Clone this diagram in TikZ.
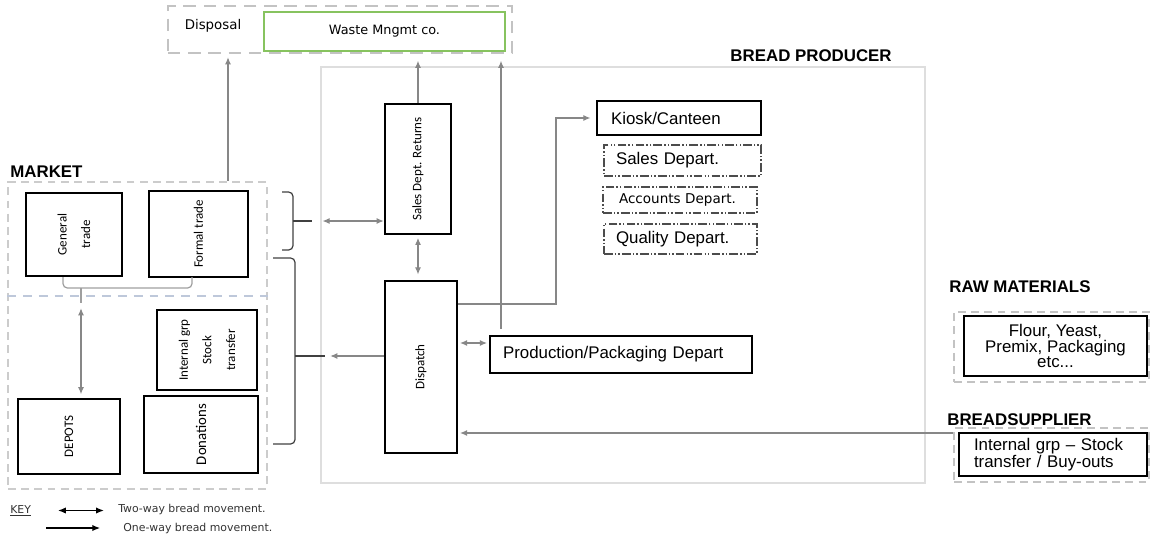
\documentclass[tikz,border=0pt]{standalone}
\usepackage{fontspec}
\setmainfont{Liberation Sans}
\newfontfamily\condfont{Carlito}
\newfontfamily\verdfont{DejaVu Sans}
\usepackage{xcolor}
\usetikzlibrary{arrows.meta,positioning,calc}
\definecolor{linegray}{RGB}{135,135,135}
\definecolor{framegray}{RGB}{222,222,222}
\definecolor{dashgray}{RGB}{195,195,195}
\definecolor{wastegreen}{RGB}{135,195,95}
\definecolor{divblue}{RGB}{190,200,218}

\begin{document}
\begin{tikzpicture}[x=0.02cm,y=-0.02cm,
  font=\fontsize{9.6}{11}\selectfont,
  box/.style={draw,line width=1.5pt,inner sep=0pt},
  vtext/.style={rotate=90,align=center,font=\condfont\fontsize{7.4}{13.4}\selectfont},
  dept/.style={draw=black!70,line width=0.9pt,inner ysep=0pt,align=left,
    dash pattern=on 5pt off 1.2pt on 0.8pt off 1.2pt on 0.8pt off 1.2pt},
  grp/.style={draw=dashgray,line width=0.9pt,dash pattern=on 4.5pt off 3pt},
  title/.style={font=\bfseries\fontsize{9.6}{11}\selectfont,inner sep=0pt},
  keytext/.style={font=\verdfont\fontsize{6.2}{7}\selectfont,text=black!80,inner sep=0pt},
  flow/.style={draw=linegray,line width=0.6pt,-{Latex[length=4pt,width=3.4pt]}},
  twoway/.style={flow,{Latex[length=4pt,width=3.4pt]}-{Latex[length=4pt,width=3.4pt]}},
  keyarrow/.style={draw=black,line width=0.7pt,-{Latex[length=4.5pt,width=3.6pt]}},
  brc/.style={draw=black!75,line width=0.7pt,rounded corners=2.5pt}]
\useasboundingbox (0,0) rectangle (1150,538);

% disposal on top
\node[grp,dash pattern=on 7pt off 4.5pt,minimum width=6.88cm,minimum height=0.94cm] (disposal) at (340,29.5) {};
\node[font=\verdfont\fontsize{7.6}{9}\selectfont] (disposal-t) at (213,26) {Disposal};
\node[draw=wastegreen,line width=0.8pt,minimum width=4.82cm,minimum height=0.78cm,
      font=\verdfont\fontsize{7.3}{9}\selectfont] (waste) at (384.5,31.5) {Waste Mngmt co.};

% bread producer
\node[draw=framegray,line width=1.3pt,minimum width=12.08cm,minimum height=8.32cm] (producer) at (623,275) {};
\node[title,anchor=base east] (producer-t) at (892,61) {BREAD PRODUCER};
\node[box,minimum width=1.32cm,minimum height=2.6cm,label={[vtext]center:Sales Dept. Returns}] (sales) at (418,169) {};
\node[box,minimum width=1.44cm,minimum height=3.44cm,label={[vtext]center:Dispatch}] (dispatch) at (421,367) {};
\node[box,minimum height=0.74cm,text width=4.72cm,inner xsep=0.26cm,align=left] (pack) at (621,354.5) {Production/Packaging Depart};
\node[box,minimum height=0.68cm,text width=2.72cm,inner xsep=0.28cm,align=left] (kiosk) at (679,118) {Kiosk/Canteen};
\node[dept,minimum height=0.62cm,text width=2.66cm,inner xsep=0.24cm] (salesdep) at (682.5,160.5) {Sales Depart.};
\node[dept,minimum height=0.52cm,text width=2.44cm,inner xsep=0.32cm,
      font=\verdfont\fontsize{7.7}{9}\selectfont] (accounts) at (680,200) {Accounts Depart.};
\node[dept,minimum height=0.6cm,text width=2.58cm,inner xsep=0.24cm] (quality) at (680.5,239) {Quality Depart.};

% market
\node[title,anchor=base west] (market-t) at (10,177) {MARKET};
\node[grp,draw=black!20,minimum width=5.18cm,minimum height=6.14cm] (market) at (137.5,335.5) {};
\coordinate (mkt-div) at (0,296);
\draw[divblue,line width=0.8pt,dash pattern=on 5pt off 4pt] (market.west |- mkt-div) -- (market.east |- mkt-div);
\node[box,minimum width=1.92cm,minimum height=1.66cm,label={[vtext]center:General\\trade}] (general) at (74,234.5) {};
\node[box,minimum width=1.98cm,minimum height=1.72cm,label={[vtext]center:Formal trade}] (formal) at (198.5,234) {};
\node[box,minimum width=2.04cm,minimum height=1.5cm,label={[vtext]center:DEPOTS}] (depots) at (69,436.5) {};
\node[box,minimum width=2.0cm,minimum height=1.6cm,label={[vtext]center:Internal grp\\Stock\\transfer}] (intgrp) at (207,350) {};
\node[box,minimum width=2.28cm,minimum height=1.54cm,
      label={[vtext,font=\condfont\fontsize{8.4}{10}\selectfont]center:Donations}] (donations) at (201,434.5) {};

% raw materials and supplier
\node[title,anchor=base west] (raw-t) at (949,292) {RAW MATERIALS};
\node[grp,minimum width=3.9cm,minimum height=1.4cm] (raw) at (1051.5,347) {};
\node[box,minimum width=3.66cm,minimum height=1.2cm,align=center,
      font=\fontsize{9.6}{8.6}\selectfont] (flour) at (1055.5,346) {Flour, Yeast,\\Premix, Packaging\\etc...};
\node[title,anchor=base west] (supplier-t) at (947,425) {BREADSUPPLIER};
\node[grp,minimum width=3.9cm,minimum height=1.08cm] (supplier) at (1051.5,455) {};
\node[box,minimum height=0.86cm,text width=3.16cm,inner xsep=0.3cm,align=left,
      font=\fontsize{9.6}{9.6}\selectfont] (internal) at (1053,454.5) {Internal grp – Stock\\transfer / Buy-outs};

% braces
\coordinate (brace-a) at (312,221);
\coordinate (brace-b) at (325,356);
\draw[brc] (282,192) -| (293,250) -- (282,250);
\draw[brc] (293,221) -- (brace-a);
\draw[brc] (273,258) -| (295,444) -- (273,444);
\draw[brc] (295,356) -- (brace-b);
\coordinate (gt-tip) at (81,303);
\draw[brc,draw=linegray!80] (63,277) |- (192,288) -- (192,277);
\draw[brc,draw=linegray!80] (81,288) -- (gt-tip);

% bread movements
\coordinate (up-mkt) at (228,0);
\coordinate (up-pack) at (501,0);
\coordinate (kiosk-turn) at (556,304);
\coordinate (pack-lvl) at (0,343);
\coordinate (supp-lvl) at (0,433);
\draw[flow,shorten >=2pt] (market.north -| up-mkt) -- (disposal.south -| up-mkt);
\draw[flow,shorten >=4pt] (sales.north) -- (sales.north |- disposal.south);
\draw[flow,shorten <=3.4pt,shorten >=4pt] (pack.north -| up-pack) -- (disposal.south -| up-pack);
\draw[twoway,shorten <=1.5pt,shorten >=3pt] (sales.south) -- (sales.south |- dispatch.north);
\draw[flow,shorten >=3pt] (dispatch.east |- kiosk-turn) -- (kiosk-turn) |- (kiosk.west);
\draw[twoway,shorten <=1pt,shorten >=1pt] (dispatch.east |- pack-lvl) -- (pack.west |- pack-lvl);
\draw[flow,shorten >=1pt] (supplier.west |- supp-lvl) -- (dispatch.east |- supp-lvl);
\draw[flow,shorten >=3pt] (dispatch.west |- brace-b) -- (brace-b);
\draw[twoway,shorten <=6pt] (brace-a) -- (sales.west |- brace-a);
\draw[twoway,shorten <=3pt,shorten >=2pt] (gt-tip) -- (depots.north -| gt-tip);

% key
\node[keytext,anchor=base west] (key) at (10,513) {\underline{KEY}};
\node[keytext,anchor=west] (two-t) at (118,509.5) {Two-way bread movement.};
\node[keytext,anchor=west] (one-t) at (123,528) {One-way bread movement.};
\coordinate (two-a) at (58,510.5);
\coordinate (one-a) at (46,528);
\draw[keyarrow,{Latex[length=4.5pt,width=3.6pt]}-{Latex[length=4.5pt,width=3.6pt]},shorten >=8pt] (two-a) -- (two-t.west |- two-a);
\draw[keyarrow,shorten >=13pt] (one-a) -- (one-t.west |- one-a);
\end{tikzpicture}
\end{document}
